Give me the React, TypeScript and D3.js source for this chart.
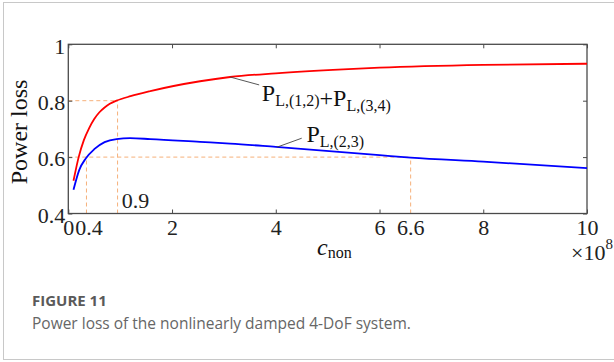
import React, { useRef, useEffect } from "react";
import * as d3 from "d3";

// values (c_non in units of 1e8)
const cRed = [0.1, 0.2, 0.3, 0.4, 0.5, 0.6, 0.7, 0.8, 0.93, 1.2, 1.58, 2.54, 3.12, 4.0, 5.3, 6.0, 8.0, 10.0];
const pRed = [0.516, 0.6, 0.66, 0.702, 0.735, 0.759, 0.776, 0.789, 0.8, 0.816, 0.834, 0.869, 0.884, 0.897, 0.911, 0.917, 0.927, 0.931];
const cBlue = [0.1, 0.21, 0.34, 0.5, 0.7, 0.93, 1.19, 1.58, 2.54, 3.12, 4.0, 6.0, 6.6, 8.0, 10.0];
const pBlue = [0.484, 0.554, 0.596, 0.628, 0.653, 0.664, 0.667, 0.664, 0.654, 0.648, 0.636, 0.607, 0.598, 0.584, 0.561];

const xTicks = [0, 2, 4, 6, 8, 10];
const yTicks = [0.4, 0.6, 0.8, 1];
const yTickLabels = ["0.4", "0.6", "0.8", "1"];

// dashed guides [x1, y1, x2, y2]
const guides = [
  [0, 0.8, 0.95, 0.8],
  [0.95, 0.4, 0.95, 0.8],
  [0, 0.6, 6.6, 0.6],
  [0.35, 0.4, 0.35, 0.6],
  [6.6, 0.4, 6.6, 0.6],
];
const extraBottomLabels = [0.4, 6.6];
const extraBottomText = ["0.4", "6.6"];

// curve labels: leader start (on curve), leader end, text anchor
const redLeader = [3.12, 0.884, 3.68, 0.856];
const redLabelAt = [3.73, 0.8];
const blueLeader = [4.02, 0.635, 4.5, 0.667];
const blueLabelAt = [4.59, 0.655];

export default function App() {
  const ref = useRef<SVGSVGElement>(null);

  useEffect(() => {
    const width = 614, height = 362;
    const margin = { top: 44.3, right: 27, bottom: 148.5, left: 68.3 };
    const svg = d3.select(ref.current);
    svg.selectAll("*").remove();
    svg.attr("width", width).attr("height", height);

    const serif = "'Liberation Serif', 'Times New Roman', serif";
    const axisColor = "#4a4a4a";

    // card outline
    svg.append("rect")
      .attr("x", 3.5).attr("y", 2.5)
      .attr("width", 660).attr("height", 357)
      .attr("fill", "white")
      .attr("stroke", "#c8c8c8");

    const x = d3.scaleLinear().domain([0, 10]).range([margin.left, width - margin.right]);
    const y = d3.scaleLinear().domain([0.4, 1]).range([height - margin.bottom, margin.top]);

    // guides
    svg.append("g").selectAll("line")
      .data(guides)
      .enter()
      .append("line")
      .attr("x1", d => x(d[0])).attr("y1", d => y(d[1]))
      .attr("x2", d => x(d[2])).attr("y2", d => y(d[3]))
      .attr("stroke", "#f6b07a")
      .attr("stroke-width", 1)
      .attr("stroke-dasharray", "4,3");

    // axes
    const styleAxis = (g: any) => {
      g.select(".domain").remove();
      g.selectAll("line").attr("stroke", axisColor).attr("stroke-width", 1);
      g.selectAll("text").attr("font-family", serif).attr("font-size", 22).attr("fill", "#222");
    };

    svg.append("g")
      .attr("transform", `translate(0,${y(0.4)})`)
      .call(d3.axisBottom(x).tickValues(xTicks).tickSize(-4).tickPadding(6).tickFormat(d3.format("d")))
      .call(styleAxis);

    svg.append("g")
      .attr("transform", `translate(0,${y(1)})`)
      .call(d3.axisTop(x).tickValues(xTicks).tickSize(-4).tickFormat(() => ""))
      .call(styleAxis);

    svg.append("g")
      .attr("transform", `translate(${x(0)},0)`)
      .call(d3.axisLeft(y).tickValues(yTicks).tickSize(-4).tickPadding(3)
        .tickFormat((d, i) => yTickLabels[i]))
      .call(styleAxis)
      .call(g => g.selectAll("text").attr("dy", "0.4em"));

    svg.append("g")
      .attr("transform", `translate(${x(10)},0)`)
      .call(d3.axisRight(y).tickValues(yTicks).tickSize(-4).tickFormat(() => ""))
      .call(styleAxis);

    // frame
    svg.append("rect")
      .attr("x", x(0)).attr("y", y(1))
      .attr("width", x(10) - x(0)).attr("height", y(0.4) - y(1))
      .attr("fill", "none")
      .attr("stroke", axisColor)
      .attr("stroke-width", 1.3);

    // extra labels under the axis
    svg.append("g").selectAll("text")
      .data(extraBottomLabels)
      .enter()
      .append("text")
      .attr("x", d => x(d))
      .attr("y", y(0.4) + 6)
      .attr("dy", "0.71em")
      .attr("text-anchor", "middle")
      .attr("font-family", serif).attr("font-size", 22).attr("fill", "#222")
      .text((d, i) => extraBottomText[i]);

    svg.append("text")
      .attr("x", x(1.03)).attr("y", y(0.4) - 6)
      .attr("font-family", serif).attr("font-size", 22).attr("fill", "#222")
      .text("0.9");

    // curves
    const line = d3.line<number>()
      .x(d => x(d))
      .curve(d3.curveMonotoneX);

    svg.append("path")
      .attr("d", line.y((d, i) => y(pRed[i]))(cRed))
      .attr("fill", "none").attr("stroke", "#ff0000").attr("stroke-width", 1.8);

    svg.append("path")
      .attr("d", line.y((d, i) => y(pBlue[i]))(cBlue))
      .attr("fill", "none").attr("stroke", "#0000ff").attr("stroke-width", 1.8);

    // leaders + labels
    [redLeader, blueLeader].forEach(l => {
      svg.append("line")
        .attr("x1", x(l[0])).attr("y1", y(l[1]))
        .attr("x2", x(l[2])).attr("y2", y(l[3]))
        .attr("stroke", "#444").attr("stroke-width", 0.9);
    });

    const subLabel = (at: number[], parts: [string, string][]) => {
      const t = svg.append("text")
        .attr("x", x(at[0])).attr("y", y(at[1]))
        .attr("font-family", serif).attr("font-size", 24).attr("fill", "#111");
      parts.forEach(([main, sub]) => {
        t.append("tspan").attr("dy", 0).text(main);
        if (sub) t.append("tspan").attr("font-size", 16).attr("dy", 5).text(sub);
        if (sub) t.append("tspan").attr("dy", -5).text("");
      });
    };
    subLabel(redLabelAt, [["P", "L,(1,2)"], ["+P", "L,(3,4)"]]);
    subLabel(blueLabelAt, [["P", "L,(2,3)"]]);

    // axis titles
    const xl = svg.append("text")
      .attr("x", 317).attr("y", 255)
      .attr("font-family", serif).attr("font-size", 24).attr("fill", "#111");
    xl.append("tspan").attr("font-style", "italic").text("c");
    xl.append("tspan").attr("font-size", 16).attr("dy", 3).text("non");

    const ex = svg.append("text")
      .attr("x", 571).attr("y", 260)
      .attr("font-family", serif).attr("font-size", 22).attr("fill", "#222");
    ex.append("tspan").text("×10");
    ex.append("tspan").attr("font-size", 15).attr("dy", -11).text("8");

    svg.append("text")
      .attr("transform", `translate(27,${(y(1) + y(0.4)) / 2 + 3}) rotate(-90)`)
      .attr("text-anchor", "middle")
      .attr("font-family", serif).attr("font-size", 24).attr("fill", "#111")
      .text("Power loss");

    // caption
    svg.append("text")
      .attr("x", 32).attr("y", 306)
      .attr("font-family", "'Open Sans', sans-serif").attr("font-weight", 700)
      .attr("font-size", 15).attr("fill", "#5a5a5a")
      .text("FIGURE 11");
    svg.append("text")
      .attr("x", 32).attr("y", 329)
      .attr("font-family", "'Open Sans', sans-serif")
      .attr("font-size", 15.5).attr("fill", "#666")
      .text("Power loss of the nonlinearly damped 4-DoF system.");
  }, []);

  return (
    <div style={{ position: "absolute", left: 0, top: 0 }}>
      <svg ref={ref} style={{ display: "block" }}></svg>
    </div>
  );
}
